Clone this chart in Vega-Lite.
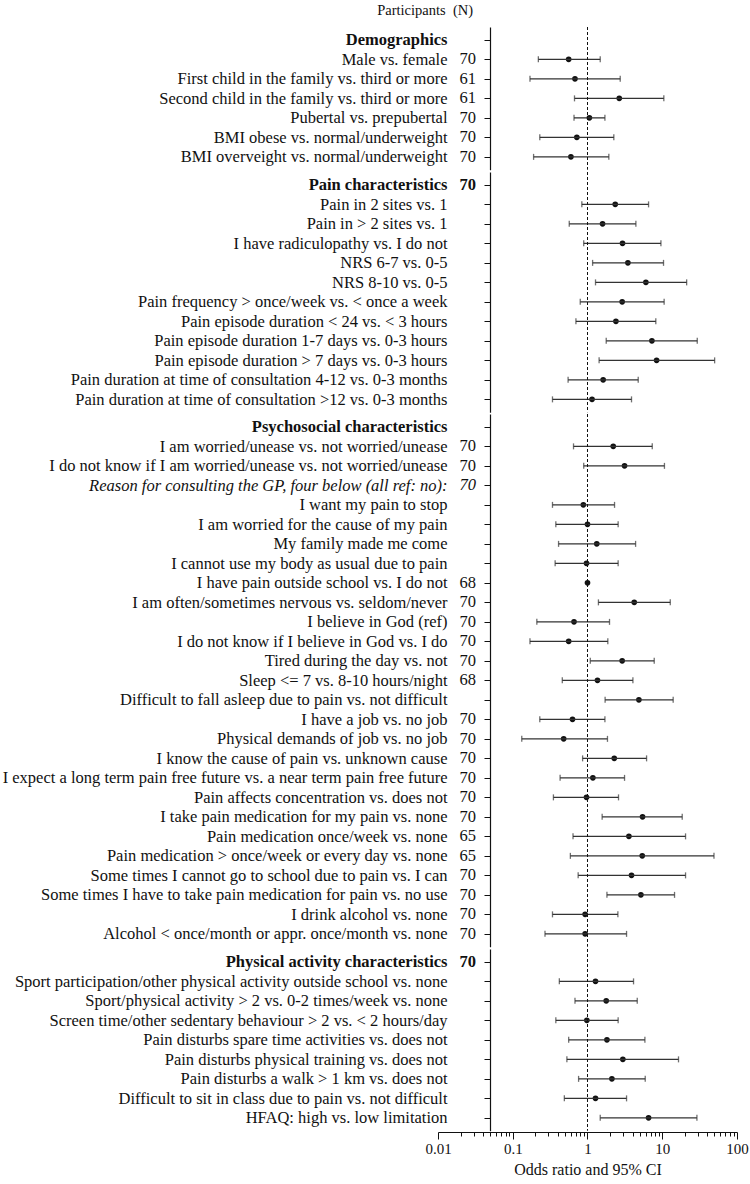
{
  "$schema": "https://vega.github.io/schema/vega-lite/v6.json",
  "background": "white",
  "padding": {"left": 2, "top": 3, "right": 5, "bottom": 3},
  "title": {"text": "Participants\u00a0 (N)", "anchor": "start", "frame": "bounds", "dx": 375, "font": "Liberation Serif", "fontSize": 14.5, "fontWeight": "normal", "color": "#111", "offset": 8},
  "data": {"values": [
    {"i": 1, "g": "D", "type": "header", "label": "Demographics", "n": null, "or": null, "lo": null, "hi": null},
    {"i": 2, "g": "D", "type": "item", "label": "Male vs. female", "n": 70, "or": 0.56, "lo": 0.22, "hi": 1.48},
    {"i": 3, "g": "D", "type": "item", "label": "First child in the family vs. third or more", "n": 61, "or": 0.68, "lo": 0.17, "hi": 2.74},
    {"i": 4, "g": "D", "type": "item", "label": "Second child in the family vs. third or more", "n": 61, "or": 2.66, "lo": 0.67, "hi": 10.5},
    {"i": 5, "g": "D", "type": "item", "label": "Pubertal vs. prepubertal", "n": 70, "or": 1.06, "lo": 0.66, "hi": 1.71},
    {"i": 6, "g": "D", "type": "item", "label": "BMI obese vs. normal/underweight", "n": 70, "or": 0.72, "lo": 0.23, "hi": 2.25},
    {"i": 7, "g": "D", "type": "item", "label": "BMI overveight vs. normal/underweight", "n": 70, "or": 0.60, "lo": 0.19, "hi": 1.93},
    {"i": 8, "g": "P", "type": "header", "label": "Pain characteristics", "n": 70, "or": null, "lo": null, "hi": null},
    {"i": 9, "g": "P", "type": "item", "label": "Pain in 2 sites vs. 1", "n": null, "or": 2.35, "lo": 0.84, "hi": 6.56},
    {"i": 10, "g": "P", "type": "item", "label": "Pain in > 2 sites vs. 1", "n": null, "or": 1.59, "lo": 0.57, "hi": 4.44},
    {"i": 11, "g": "P", "type": "item", "label": "I have radiculopathy vs. I do not", "n": null, "or": 2.94, "lo": 0.89, "hi": 9.6},
    {"i": 12, "g": "P", "type": "item", "label": "NRS 6-7 vs. 0-5", "n": null, "or": 3.47, "lo": 1.17, "hi": 10.4},
    {"i": 13, "g": "P", "type": "item", "label": "NRS 8-10 vs. 0-5", "n": null, "or": 6.04, "lo": 1.28, "hi": 21.2},
    {"i": 14, "g": "P", "type": "item", "label": "Pain frequency > once/week vs. < once a week", "n": null, "or": 2.91, "lo": 0.80, "hi": 10.6},
    {"i": 15, "g": "P", "type": "item", "label": "Pain episode duration < 24 vs. < 3 hours", "n": null, "or": 2.40, "lo": 0.70, "hi": 8.2},
    {"i": 16, "g": "P", "type": "item", "label": "Pain episode duration 1-7 days vs. 0-3 hours", "n": null, "or": 7.27, "lo": 1.78, "hi": 29.4},
    {"i": 17, "g": "P", "type": "item", "label": "Pain episode duration > 7 days vs. 0-3 hours", "n": null, "or": 8.4, "lo": 1.43, "hi": 50.2},
    {"i": 18, "g": "P", "type": "item", "label": "Pain duration at time of consultation 4-12 vs. 0-3 months", "n": null, "or": 1.62, "lo": 0.55, "hi": 4.77},
    {"i": 19, "g": "P", "type": "item", "label": "Pain duration at time of consultation >12 vs. 0-3 months", "n": null, "or": 1.15, "lo": 0.34, "hi": 3.88},
    {"i": 20, "g": "S", "type": "header", "label": "Psychosocial characteristics", "n": null, "or": null, "lo": null, "hi": null},
    {"i": 21, "g": "S", "type": "item", "label": "I am worried/unease vs. not worried/unease", "n": 70, "or": 2.21, "lo": 0.65, "hi": 7.35},
    {"i": 22, "g": "S", "type": "item", "label": "I do not know if I am worried/unease vs. not worried/unease", "n": 70, "or": 3.13, "lo": 0.89, "hi": 10.7},
    {"i": 23, "g": "S", "type": "note", "label": "Reason for consulting the GP, four below (all ref: no):", "n": 70, "or": null, "lo": null, "hi": null},
    {"i": 24, "g": "S", "type": "item", "label": "I want my pain to stop", "n": null, "or": 0.88, "lo": 0.34, "hi": 2.30},
    {"i": 25, "g": "S", "type": "item", "label": "I am worried for the cause of my pain", "n": null, "or": 1.0, "lo": 0.377, "hi": 2.57},
    {"i": 26, "g": "S", "type": "item", "label": "My family made me come", "n": null, "or": 1.33, "lo": 0.41, "hi": 4.40},
    {"i": 27, "g": "S", "type": "item", "label": "I cannot use my body as usual due to pain", "n": null, "or": 0.97, "lo": 0.369, "hi": 2.57},
    {"i": 28, "g": "S", "type": "item", "label": "I have pain outside school vs. I do not", "n": 68, "or": 1.0, "lo": null, "hi": null},
    {"i": 29, "g": "S", "type": "item", "label": "I am often/sometimes nervous vs. seldom/never", "n": 70, "or": 4.22, "lo": 1.40, "hi": 12.8},
    {"i": 30, "g": "S", "type": "item", "label": "I believe in God (ref)", "n": 70, "or": 0.66, "lo": 0.21, "hi": 1.97},
    {"i": 31, "g": "S", "type": "item", "label": "I do not know if I believe in God vs. I do", "n": 70, "or": 0.56, "lo": 0.17, "hi": 1.87},
    {"i": 32, "g": "S", "type": "item", "label": "Tired during the day vs. not", "n": 70, "or": 2.91, "lo": 1.09, "hi": 7.81},
    {"i": 33, "g": "S", "type": "item", "label": "Sleep <= 7 vs. 8-10 hours/night", "n": 68, "or": 1.36, "lo": 0.46, "hi": 4.05},
    {"i": 34, "g": "S", "type": "item", "label": "Difficult to fall asleep due to pain vs. not difficult", "n": null, "or": 4.87, "lo": 1.72, "hi": 14.0},
    {"i": 35, "g": "S", "type": "item", "label": "I have a job vs. no job", "n": 70, "or": 0.63, "lo": 0.23, "hi": 1.71},
    {"i": 36, "g": "S", "type": "item", "label": "Physical demands of job vs. no job", "n": 70, "or": 0.48, "lo": 0.132, "hi": 1.85},
    {"i": 37, "g": "S", "type": "item", "label": "I know the cause of pain vs. unknown cause", "n": 70, "or": 2.28, "lo": 0.86, "hi": 6.17},
    {"i": 38, "g": "S", "type": "item", "label": "I expect a long term pain free future vs. a near term pain free future", "n": 70, "or": 1.18, "lo": 0.43, "hi": 3.13},
    {"i": 39, "g": "S", "type": "item", "label": "Pain affects concentration vs. does not", "n": 70, "or": 0.97, "lo": 0.35, "hi": 2.60},
    {"i": 40, "g": "S", "type": "item", "label": "I take pain medication for my pain vs. none", "n": 70, "or": 5.45, "lo": 1.57, "hi": 18.5},
    {"i": 41, "g": "S", "type": "item", "label": "Pain medication once/week vs. none", "n": 65, "or": 3.58, "lo": 0.64, "hi": 20.5},
    {"i": 42, "g": "S", "type": "item", "label": "Pain medication > once/week or every day vs. none", "n": 65, "or": 5.40, "lo": 0.59, "hi": 49.2},
    {"i": 43, "g": "S", "type": "item", "label": "Some times I cannot go to school due to pain vs. I can", "n": 70, "or": 3.88, "lo": 0.75, "hi": 20.5},
    {"i": 44, "g": "S", "type": "item", "label": "Some times I have to take pain medication for pain vs. no use", "n": 70, "or": 5.18, "lo": 1.82, "hi": 14.6},
    {"i": 45, "g": "S", "type": "item", "label": "I drink alcohol vs. none", "n": 70, "or": 0.93, "lo": 0.34, "hi": 2.55},
    {"i": 46, "g": "S", "type": "item", "label": "Alcohol < once/month or appr. once/month vs. none", "n": 70, "or": 0.93, "lo": 0.27, "hi": 3.33},
    {"i": 47, "g": "A", "type": "header", "label": "Physical activity characteristics", "n": 70, "or": null, "lo": null, "hi": null},
    {"i": 48, "g": "A", "type": "item", "label": "Sport participation/other physical activity outside school vs. none", "n": null, "or": 1.28, "lo": 0.42, "hi": 4.13},
    {"i": 49, "g": "A", "type": "item", "label": "Sport/physical activity > 2 vs. 0-2 times/week vs. none", "n": null, "or": 1.78, "lo": 0.68, "hi": 4.63},
    {"i": 50, "g": "A", "type": "item", "label": "Screen time/other sedentary behaviour > 2 vs. < 2 hours/day", "n": null, "or": 0.98, "lo": 0.377, "hi": 2.57},
    {"i": 51, "g": "A", "type": "item", "label": "Pain disturbs spare time activities vs. does not", "n": null, "or": 1.82, "lo": 0.56, "hi": 5.86},
    {"i": 52, "g": "A", "type": "item", "label": "Pain disturbs physical training vs. does not", "n": null, "or": 2.97, "lo": 0.53, "hi": 16.5},
    {"i": 53, "g": "A", "type": "item", "label": "Pain disturbs a walk > 1 km vs. does not", "n": null, "or": 2.12, "lo": 0.76, "hi": 5.92},
    {"i": 54, "g": "A", "type": "item", "label": "Difficult to sit in class due to pain vs. not difficult", "n": null, "or": 1.28, "lo": 0.49, "hi": 3.33},
    {"i": 55, "g": "A", "type": "item", "label": "HFAQ: high vs. low limitation", "n": null, "or": 6.56, "lo": 1.48, "hi": 29.1}
  ]},
  "facet": {"row": {"field": "g", "type": "nominal", "sort": ["D", "P", "S", "A"], "title": null, "header": {"labels": false, "title": null}}},
  "spacing": 0,
  "resolve": {"scale": {"y": "independent"}},
  "spec": {
    "width": 299,
    "height": {"step": 19.5},
    "layer": [
      {
        "mark": {"type": "circle", "size": 32, "color": "#111", "opacity": 1},
        "encoding": {
          "y": {"field": "label", "type": "nominal", "sort": {"field": "i", "op": "min"}, "scale": {"type": "point", "padding": 0.66},
            "axis": {"title": null, "offset": -52, "domainColor": "#111", "domainWidth": 1.2, "tickColor": "#111", "tickSize": 6, "tickWidth": 1,
              "labelFont": "Liberation Serif", "labelFontSize": 16.5, "labelColor": "#111", "labelPadding": 37, "labelLimit": 0,
              "labelFontWeight": {"condition": {"test": "datum.value == 'Demographics' || indexof(datum.value, 'characteristics') >= 0", "value": "bold"}, "value": "normal"},
              "labelFontStyle": {"condition": {"test": "indexof(datum.value, 'Reason for') == 0", "value": "italic"}, "value": "normal"}}},
          "x": {"field": "or", "type": "quantitative", "title": "Odds ratio and 95% CI", "scale": {"type": "log", "domain": [0.01, 100], "nice": false},
            "axis": {"values": [0.01,0.02,0.03,0.04,0.05,0.06,0.07,0.08,0.09,0.1,0.2,0.3,0.4,0.5,0.6,0.7,0.8,0.9,1,2,3,4,5,6,7,8,9,10,20,30,40,50,60,70,80,90,100],
              "labelExpr": "abs(log(datum.value)/LN10 - round(log(datum.value)/LN10)) < 0.001 ? format(datum.value, '~g') : ''",
              "tickSize": {"condition": {"test": "abs(log(datum.value)/LN10 - round(log(datum.value)/LN10)) < 0.001", "value": 7}, "value": 4},
              "tickColor": "#111", "tickWidth": 1, "domainColor": "#111", "domainWidth": 1.2,
              "labelFont": "Liberation Serif", "labelFontSize": 15, "labelColor": "#111", "labelPadding": 2, "labelFlush": false, "labelOverlap": false,
              "titleFont": "Liberation Serif", "titleFontSize": 16, "titleFontWeight": "normal", "titleColor": "#111", "titlePadding": 5}}
        }
      },
      {
        "mark": {"type": "rule", "color": "#333", "strokeWidth": 1.3},
        "encoding": {
          "y": {"field": "label", "type": "nominal", "sort": {"field": "i", "op": "min"}, "scale": {"type": "point", "padding": 0.66}},
          "x": {"field": "lo", "type": "quantitative", "title": "Odds ratio and 95% CI"},
          "x2": {"field": "hi"}
        }
      },
      {
        "mark": {"type": "tick", "orient": "vertical", "size": 6, "thickness": 1.3, "color": "#333"},
        "encoding": {
          "y": {"field": "label", "type": "nominal", "sort": {"field": "i", "op": "min"}, "scale": {"type": "point", "padding": 0.66}},
          "x": {"field": "lo", "type": "quantitative", "title": "Odds ratio and 95% CI"}
        }
      },
      {
        "mark": {"type": "tick", "orient": "vertical", "size": 6, "thickness": 1.3, "color": "#333"},
        "encoding": {
          "y": {"field": "label", "type": "nominal", "sort": {"field": "i", "op": "min"}, "scale": {"type": "point", "padding": 0.66}},
          "x": {"field": "hi", "type": "quantitative", "title": "Odds ratio and 95% CI"}
        }
      },
      {
        "transform": [{"filter": "datum.type == 'header'"}],
        "mark": {"type": "rule", "color": "#111", "strokeWidth": 1, "strokeDash": [3, 2]},
        "encoding": {"x": {"datum": 1}}
      },
      {
        "transform": [{"filter": "datum.type == 'item' && isValid(datum.n)"}],
        "mark": {"type": "text", "font": "Liberation Serif", "fontSize": 16.5, "color": "#111", "align": "center", "baseline": "middle"},
        "encoding": {
          "y": {"field": "label", "type": "nominal", "sort": {"field": "i", "op": "min"}, "scale": {"type": "point", "padding": 0.66}},
          "x": {"datum": 0.025},
          "text": {"field": "n", "type": "nominal"}
        }
      },
      {
        "transform": [{"filter": "datum.type == 'header' && isValid(datum.n)"}],
        "mark": {"type": "text", "font": "Liberation Serif", "fontSize": 16.5, "fontWeight": "bold", "color": "#111", "align": "center", "baseline": "middle"},
        "encoding": {
          "y": {"field": "label", "type": "nominal", "sort": {"field": "i", "op": "min"}, "scale": {"type": "point", "padding": 0.66}},
          "x": {"datum": 0.025},
          "text": {"field": "n", "type": "nominal"}
        }
      },
      {
        "transform": [{"filter": "datum.type == 'note'"}],
        "mark": {"type": "text", "font": "Liberation Serif", "fontSize": 16.5, "fontStyle": "italic", "color": "#111", "align": "center", "baseline": "middle"},
        "encoding": {
          "y": {"field": "label", "type": "nominal", "sort": {"field": "i", "op": "min"}, "scale": {"type": "point", "padding": 0.66}},
          "x": {"datum": 0.025},
          "text": {"field": "n", "type": "nominal"}
        }
      }
    ]
  },
  "config": {"view": {"stroke": null}, "axis": {"grid": false}, "font": "Liberation Serif"}
}
